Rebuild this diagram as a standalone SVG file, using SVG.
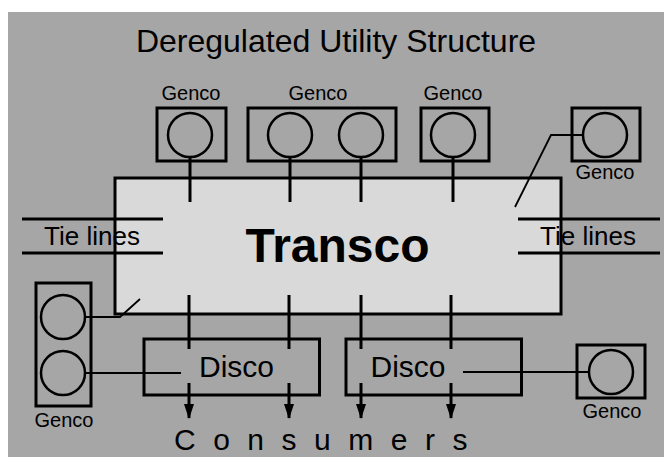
<svg xmlns="http://www.w3.org/2000/svg" width="664" height="462" viewBox="0 0 664 462">
<style>
text{font-family:"Liberation Sans",Arial,Helvetica,sans-serif;fill:#000}
.box{fill:none;stroke:#000;stroke-width:3}
.gen{fill:none;stroke:#000;stroke-width:2.5}
.thick{fill:none;stroke:#000;stroke-width:3}
.thin{fill:none;stroke:#000;stroke-width:1.8}
.lbl{font-size:20px;text-anchor:middle}
.disco{font-size:30px;text-anchor:middle}
.tie{font-size:26px;text-anchor:middle}
</style>
<defs>
<marker id="arr" viewBox="0 0 15 10" refX="14" refY="5" markerWidth="15" markerHeight="10" markerUnits="userSpaceOnUse" orient="auto">
<path d="M0,0 L15,5 L0,10 Z" fill="#000"/>
</marker>
</defs>
<rect x="8" y="12" width="656" height="445" fill="#a6a6a6"/>
<text id="title" x="336" y="52" style="font-size:32px;text-anchor:middle">Deregulated Utility Structure</text>

<g id="transco">
<rect x="115" y="178" width="446" height="136" fill="#d9d9d9" stroke="#000" stroke-width="3"/>
<text x="337.5" y="262" style="font-size:48px;font-weight:bold;text-anchor:middle">Transco</text>
</g>

<g id="genco1">
<rect class="box" x="157" y="108" width="69" height="53"/>
<circle class="gen" cx="190" cy="135" r="22"/>
<text class="lbl" x="191" y="100">Genco</text>
</g>
<g id="genco2">
<rect class="box" x="248" y="108" width="148" height="53"/>
<circle class="gen" cx="290" cy="135" r="22"/>
<circle class="gen" cx="361" cy="135" r="22"/>
<text class="lbl" x="318" y="100">Genco</text>
</g>
<g id="genco3">
<rect class="box" x="421" y="108" width="68" height="53"/>
<circle class="gen" cx="453" cy="135" r="22"/>
<text class="lbl" x="453" y="100">Genco</text>
</g>
<g id="genco4">
<rect class="box" x="572" y="108" width="68" height="53"/>
<circle class="gen" cx="605" cy="135" r="22"/>
<text class="lbl" x="605" y="179">Genco</text>
</g>
<g id="genco5">
<rect class="box" x="36" y="283" width="55" height="123"/>
<circle class="gen" cx="63" cy="317" r="22"/>
<circle class="gen" cx="63" cy="373" r="22"/>
<text class="lbl" x="64" y="427">Genco</text>
</g>
<g id="genco6">
<rect class="box" x="577" y="345" width="68" height="53"/>
<circle class="gen" cx="611" cy="372" r="22"/>
<text class="lbl" x="612" y="418">Genco</text>
</g>

<g id="disco1">
<rect class="box" x="144" y="339" width="175.5" height="56"/>
<text class="disco" x="236.5" y="377">Disco</text>
</g>
<g id="disco2">
<rect class="box" x="346" y="339" width="175.5" height="56"/>
<text class="disco" x="408" y="377">Disco</text>
</g>

<g id="tielines-left">
<line class="thick" x1="22" y1="219" x2="163" y2="219"/>
<line class="thick" x1="22" y1="253" x2="163" y2="253"/>
<text class="tie" x="92" y="245">Tie lines</text>
</g>
<g id="tielines-right">
<line class="thick" x1="518" y1="219" x2="660" y2="219"/>
<line class="thick" x1="518" y1="253" x2="660" y2="253"/>
<text class="tie" x="588" y="245">Tie lines</text>
</g>

<g id="connectors">
<line class="thick" x1="190" y1="157" x2="190" y2="202"/>
<line class="thick" x1="290" y1="157" x2="290" y2="202"/>
<line class="thick" x1="361" y1="157" x2="361" y2="202"/>
<line class="thick" x1="453" y1="157" x2="453" y2="202"/>
<polyline class="thin" points="583,135 551,135 515,207"/>
<polyline class="thin" points="85,317 120,317 140,299"/>
<line class="thin" x1="85" y1="373" x2="181" y2="373"/>
<line class="thin" x1="463" y1="372" x2="589" y2="372"/>
<line class="thick" x1="189" y1="295" x2="189" y2="349"/>
<line class="thick" x1="289" y1="295" x2="289" y2="349"/>
<line class="thick" x1="361" y1="295" x2="361" y2="349"/>
<line class="thick" x1="451" y1="295" x2="451" y2="349"/>
<line class="thick" x1="189" y1="383" x2="189" y2="418" marker-end="url(#arr)"/>
<line class="thick" x1="289" y1="383" x2="289" y2="418" marker-end="url(#arr)"/>
<line class="thick" x1="361" y1="383" x2="361" y2="418" marker-end="url(#arr)"/>
<line class="thick" x1="451" y1="383" x2="451" y2="418" marker-end="url(#arr)"/>
</g>

<text id="consumers" x="174" y="450" style="font-size:30px;letter-spacing:17.5px">Consumers</text>
</svg>
